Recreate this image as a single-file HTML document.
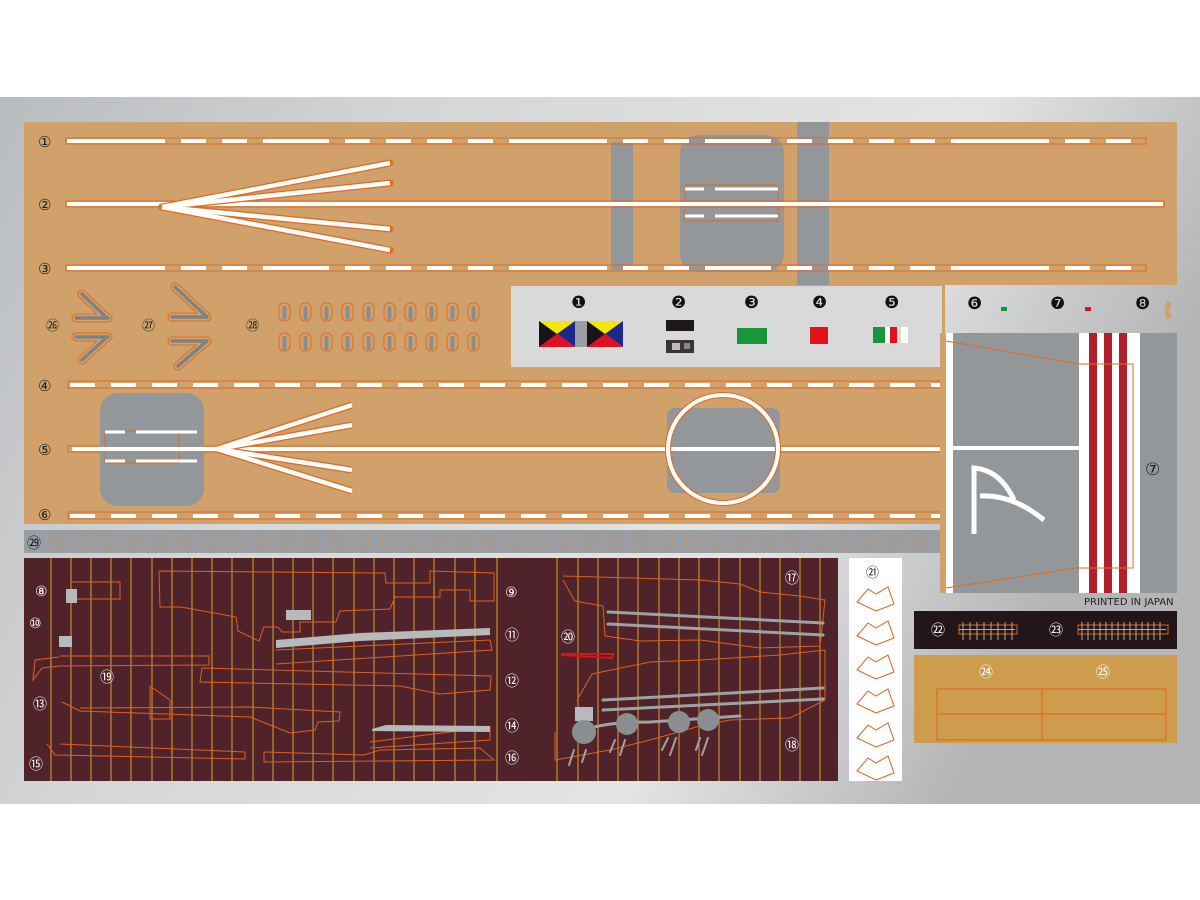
<!DOCTYPE html>
<html><head><meta charset="utf-8"><style>
html,body{margin:0;padding:0;background:#fff;}
svg{display:block;}
text{font-family:"DejaVu Sans","Noto Sans CJK JP",sans-serif;}
</style></head><body>
<svg width="1200" height="900" viewBox="0 0 1200 900" xmlns="http://www.w3.org/2000/svg">
<defs>
<linearGradient id="sil" x1="0" y1="0" x2="1" y2="0.3">
<stop offset="0" stop-color="#b9bcbf"/><stop offset="0.35" stop-color="#d6d7d8"/><stop offset="0.75" stop-color="#e4e4e4"/><stop offset="1" stop-color="#b3b5b7"/>
</linearGradient>
</defs>
<rect x="0" y="97" width="1200" height="707" fill="url(#sil)"/>
<rect x="24" y="122" width="1153" height="163" fill="#d0a16b"/>
<rect x="24" y="285" width="921" height="239" fill="#d0a16b"/>
<rect x="611" y="142" width="22" height="128" fill="#93979a"/>
<rect x="797" y="122" width="32" height="163" fill="#93979a"/>
<rect x="680" y="135" width="104" height="137" rx="18" fill="#93979a"/>
<rect x="685" y="185" width="93" height="36" fill="none" stroke="#e06a20" stroke-width="1"/>
<g stroke="#fff" stroke-width="3"><line x1="685" y1="189" x2="704" y2="189"/><line x1="715" y1="189" x2="778" y2="189"/><line x1="685" y1="216" x2="704" y2="216"/><line x1="715" y1="216" x2="778" y2="216"/></g>
<g fill="none" stroke="#e06a20" stroke-width="1">
<rect x="66" y="138" width="1080" height="6"/><rect x="66" y="201" width="1098" height="6"/><rect x="66" y="265" width="1080" height="6"/>
<rect x="68" y="381" width="877" height="7"/><rect x="68" y="446" width="877" height="6"/><rect x="68" y="512" width="877" height="7"/>
</g>
<g stroke="#fff" stroke-width="4">
<line x1="67" y1="141" x2="1145" y2="141" stroke-dasharray="98 16 25 16 25 16 66 16 25 16 25 16 25 16 25 16"/>
<line x1="67" y1="204" x2="1163" y2="204"/>
<line x1="67" y1="268" x2="1145" y2="268" stroke-dasharray="98 16 25 16 25 16 66 16 25 16 25 16 25 16 25 16"/>
<line x1="70" y1="385" x2="945" y2="385" stroke-dasharray="25 16"/>
<line x1="70" y1="516" x2="945" y2="516" stroke-dasharray="25 16"/>
</g>
<g stroke="#e06a20" stroke-width="7" stroke-linecap="round"><line x1="162" y1="207" x2="390" y2="163"/><line x1="162" y1="207" x2="390" y2="183"/><line x1="162" y1="207" x2="390" y2="229"/><line x1="162" y1="207" x2="390" y2="250"/></g>
<g stroke="#fff" stroke-width="4.5"><line x1="162" y1="207" x2="390" y2="163"/><line x1="162" y1="207" x2="390" y2="183"/><line x1="162" y1="207" x2="390" y2="229"/><line x1="162" y1="207" x2="390" y2="250"/></g>
<rect x="100" y="393" width="104" height="113" rx="18" fill="#93979a"/>
<rect x="105" y="431" width="74" height="32" fill="none" stroke="#e06a20" stroke-width="1"/>
<line x1="72" y1="449" x2="945" y2="449" stroke="#fff" stroke-width="4"/>
<g stroke="#fff" stroke-width="3"><line x1="105" y1="432" x2="125" y2="432"/><line x1="136" y1="432" x2="197" y2="432"/><line x1="105" y1="461" x2="125" y2="461"/><line x1="136" y1="461" x2="197" y2="461"/></g>
<g stroke="#e06a20" stroke-width="7"><line x1="217" y1="449" x2="352" y2="405"/><line x1="217" y1="449" x2="352" y2="425"/><line x1="217" y1="449" x2="352" y2="470"/><line x1="217" y1="449" x2="352" y2="491"/></g>
<g stroke="#fff" stroke-width="4.5"><line x1="217" y1="449" x2="352" y2="405"/><line x1="217" y1="449" x2="352" y2="425"/><line x1="217" y1="449" x2="352" y2="470"/><line x1="217" y1="449" x2="352" y2="491"/></g>
<rect x="667" y="408" width="113" height="85" rx="8" fill="#93979a"/>
<line x1="667" y1="449" x2="780" y2="449" stroke="#fff" stroke-width="4"/>
<ellipse cx="723" cy="449" rx="55" ry="54" fill="none" stroke="#e06a20" stroke-width="6"/>
<ellipse cx="723" cy="449" rx="55" ry="54" fill="none" stroke="#fff" stroke-width="4"/>
<g font-size="15" fill="#222">
<text x="38" y="147">①</text><text x="38" y="210">②</text><text x="38" y="274">③</text>
<text x="38" y="391">④</text><text x="38" y="455">⑤</text><text x="38" y="520">⑥</text>
</g>
<g font-size="13" fill="#222" font-family="'Noto Sans CJK JP',sans-serif">
<text x="46" y="330">㉖</text><text x="142" y="330">㉗</text><text x="246" y="330">㉘</text>
</g>
<g stroke-linecap="round">
<g stroke="#e06a20" stroke-width="9"><path d="M82,294 L107,318 M76,318 H108 M76,337 H108 M82,360 L107,337 M175,287 L207,317 M172,317 H207 M172,341 H207 M178,366 L207,341"/></g>
<g stroke="#d0a16b" stroke-width="7"><path d="M82,294 L107,318 M76,318 H108 M76,337 H108 M82,360 L107,337 M175,287 L207,317 M172,317 H207 M172,341 H207 M178,366 L207,341"/></g>
<g stroke="#7d8285" stroke-width="3.5"><path d="M82,294 L107,318 M76,318 H108 M76,337 H108 M82,360 L107,337 M175,287 L207,317 M172,317 H207 M172,341 H207 M178,366 L207,341"/></g>
</g>
<g>
<g fill="#d0a16b" stroke="#e06a20" stroke-width="1">
<rect x="279" y="303" width="11" height="18" rx="5"/><rect x="300" y="303" width="11" height="18" rx="5"/><rect x="321" y="303" width="11" height="18" rx="5"/><rect x="342" y="303" width="11" height="18" rx="5"/><rect x="363" y="303" width="11" height="18" rx="5"/><rect x="384" y="303" width="11" height="18" rx="5"/><rect x="405" y="303" width="11" height="18" rx="5"/><rect x="426" y="303" width="11" height="18" rx="5"/><rect x="447" y="303" width="11" height="18" rx="5"/><rect x="468" y="303" width="11" height="18" rx="5"/>
<rect x="279" y="333" width="11" height="18" rx="5"/><rect x="300" y="333" width="11" height="18" rx="5"/><rect x="321" y="333" width="11" height="18" rx="5"/><rect x="342" y="333" width="11" height="18" rx="5"/><rect x="363" y="333" width="11" height="18" rx="5"/><rect x="384" y="333" width="11" height="18" rx="5"/><rect x="405" y="333" width="11" height="18" rx="5"/><rect x="426" y="333" width="11" height="18" rx="5"/><rect x="447" y="333" width="11" height="18" rx="5"/><rect x="468" y="333" width="11" height="18" rx="5"/>
</g>
<g stroke="#8a8e91" stroke-width="4" stroke-linecap="round"><path d="M284.5,308V318M305.5,308V318M326.5,308V318M347.5,308V318M368.5,308V318M389.5,308V318M410.5,308V318M431.5,308V318M452.5,308V318M473.5,308V318M284.5,338V348M305.5,338V348M326.5,338V348M347.5,338V348M368.5,338V348M389.5,338V348M410.5,338V348M431.5,338V348M452.5,338V348M473.5,338V348"/></g>
</g>
<rect x="511" y="286" width="431" height="81" fill="#d9d9da"/>
<g font-size="17" fill="#111">
<text x="571" y="308">❶</text><text x="671" y="308">❷</text><text x="744" y="308">❸</text><text x="812" y="308">❹</text><text x="884" y="308">❺</text>
<text x="967" y="309">❻</text><text x="1050" y="309">❼</text><text x="1135" y="309">❽</text>
</g>
<g>
<polygon points="539,321 575,321 557,334" fill="#f5e60a"/><polygon points="575,321 575,347 557,334" fill="#1b2a8a"/><polygon points="539,347 575,347 557,334" fill="#e01020"/><polygon points="539,321 539,347 557,334" fill="#1a1414"/>
<rect x="575" y="321" width="12" height="26" fill="#9a9ea2"/>
<polygon points="587,321 623,321 605,334" fill="#f5e60a"/><polygon points="623,321 623,347 605,334" fill="#1b2a8a"/><polygon points="587,347 623,347 605,334" fill="#e01020"/><polygon points="587,321 587,347 605,334" fill="#1a1414"/>
<rect x="666" y="320" width="28" height="11" fill="#1e1618"/>
<rect x="666" y="340" width="28" height="13" fill="#3a3436"/><rect x="672" y="343" width="8" height="7" fill="#bbb"/><rect x="684" y="343" width="6" height="6" fill="#888"/>
<rect x="737" y="328" width="30" height="16" fill="#17963a"/>
<rect x="810" y="327" width="18" height="17" fill="#e3101e"/>
<rect x="873" y="327" width="12" height="16" fill="#17963a"/><rect x="885" y="327" width="5" height="16" fill="#fff"/><rect x="890" y="327" width="7" height="16" fill="#e3101e"/><rect x="901" y="327" width="7" height="16" fill="#fff"/>
<rect x="1001" y="307" width="6" height="4" fill="#17963a"/><rect x="1085" y="307" width="6" height="4" fill="#e3101e"/>
<path d="M1170,302 Q1164,310 1170,318" stroke="#d0a16b" stroke-width="5" fill="none"/>
</g>
<rect x="940" y="333" width="6" height="260" fill="#d0a16b"/>
<rect x="946" y="333" width="7" height="260" fill="#fff"/>
<rect x="953" y="333" width="224" height="260" fill="#93979a"/>
<rect x="953" y="446" width="127" height="4" fill="#fff"/>
<rect x="1079" y="333" width="61" height="260" fill="#fff"/>
<rect x="1089" y="333" width="8" height="260" fill="#b0202a"/><rect x="1104" y="333" width="8" height="260" fill="#b0202a"/><rect x="1119" y="333" width="8" height="260" fill="#b0202a"/>
<path d="M974,534 V468 Q1000,470 1014,500 M980,496 Q1012,494 1044,520" fill="none" stroke="#fff" stroke-width="5"/>
<polyline points="946,341 1079,364 1133,364 1133,568 1076,568 946,588" fill="none" stroke="#e06a20" stroke-width="1"/>
<text x="1145" y="475" font-size="17" fill="#222">⑦</text>
<text x="1084" y="605" font-size="10" fill="#222" font-family="'Liberation Sans',sans-serif">PRINTED IN JAPAN</text>
<rect x="24" y="530" width="916" height="23" fill="#9a9ea2"/>
<text x="27" y="548" font-size="14" fill="#111" font-family="'Noto Sans CJK JP',sans-serif">㉙</text>
<g fill="none" stroke="#c98a5a" stroke-width="1" opacity="0.8">
<rect x="53" y="536" width="10" height="12"/><rect x="79" y="536" width="10" height="12"/><rect x="104" y="536" width="10" height="12"/><rect x="130" y="536" width="10" height="12"/><rect x="155" y="536" width="10" height="12"/><rect x="180" y="536" width="10" height="12"/><rect x="206" y="536" width="10" height="12"/><rect x="231" y="536" width="10" height="12"/><rect x="256" y="536" width="10" height="12"/><rect x="282" y="536" width="10" height="12"/><rect x="307" y="536" width="10" height="12"/><rect x="332" y="536" width="10" height="12"/><rect x="358" y="536" width="10" height="12"/><rect x="383" y="536" width="10" height="12"/><rect x="408" y="536" width="10" height="12"/><rect x="434" y="536" width="10" height="12"/><rect x="459" y="536" width="10" height="12"/><rect x="484" y="536" width="10" height="12"/><rect x="510" y="536" width="10" height="12"/><rect x="535" y="536" width="10" height="12"/><rect x="560" y="536" width="10" height="12"/><rect x="586" y="536" width="10" height="12"/><rect x="611" y="536" width="10" height="12"/><rect x="636" y="536" width="10" height="12"/><rect x="662" y="536" width="10" height="12"/><rect x="687" y="536" width="10" height="12"/><rect x="712" y="536" width="10" height="12"/><rect x="738" y="536" width="10" height="12"/><rect x="763" y="536" width="10" height="12"/><rect x="788" y="536" width="10" height="12"/><rect x="814" y="536" width="10" height="12"/><rect x="839" y="536" width="10" height="12"/><rect x="864" y="536" width="10" height="12"/><rect x="890" y="536" width="10" height="12"/><rect x="915" y="536" width="10" height="12"/>
</g>
<rect x="24" y="558" width="814" height="223" fill="#50232a"/>
<g stroke="#e0a030" stroke-width="1">
<path d="M51,558V781M71,558V781M91,558V781M111,558V781M131,558V781M152,558V781M172,558V781M192,558V781M212,558V781M232,558V781M253,558V781M273,558V781M293,558V781M313,558V781M333,558V781M354,558V781M374,558V781M394,558V781M414,558V781M434,558V781M455,558V781M475,558V781M497,558V781"/>
<path d="M557,558V781M578,558V781M598,558V781M618,558V781M638,558V781M659,558V781M679,558V781M699,558V781M719,558V781M740,558V781M760,558V781M780,558V781M800,558V781M820,558V781"/>
</g>
<g fill="none" stroke="#e0601c" stroke-width="1">
<polyline points="70,582 120,582 120,599 70,599"/>
<polyline points="159,571 385,573 386,583 430,583 430,571 494,573 494,601 470,601 470,590 440,590 440,597 395,597 390,609 340,611 336,622 300,622 300,632 282,632 278,627 264,627 259,641 238,631 236,617 181,607 160,607 159,571"/>
<polyline points="59,657 35,660 33,680 42,668 60,666 209,665 209,656 60,656"/>
<polyline points="276,650 490,640 492,650 276,664"/>
<polyline points="202,668 200,682 400,686 440,694 490,690 491,676 202,668"/>
<polyline points="62,702 80,711 250,717 290,733 315,730 318,722 339,721 340,712 250,707 80,708"/>
<polyline points="47,744 55,755 245,759 245,752 60,744"/>
<polyline points="264,752 264,762 494,760 480,748 380,750 364,755 264,752"/>
<polyline points="370,742 490,727 490,740 370,748"/>
<polyline points="150,686 150,719 170,719 170,700 150,686"/>
<polyline points="563,580 575,601 603,606 605,636 640,641 700,640 760,648 820,646 825,600 800,596 760,592 740,584 700,580 563,576"/>
<polyline points="577,700 592,674 650,662 700,660 780,655 825,650 825,700 790,718 730,720 700,726 650,740 610,750 555,760 555,732"/>
<polyline points="561,655 612,658 613,654 561,654" stroke="#d01818" stroke-width="2"/>
</g>
<g fill="#b7b9bb">
<rect x="66" y="589" width="11" height="14"/><rect x="59" y="636" width="13" height="11"/><rect x="286" y="610" width="25" height="10"/>
<polygon points="276,640 360,633 490,628 490,635 360,641 276,648"/>
<polygon points="372,729 386,725 490,726 490,732 372,731"/>
<rect x="575" y="707" width="18" height="14"/>
</g>
<g stroke="#9ea2a5" stroke-width="3" stroke-linecap="round">
<line x1="608" y1="612" x2="823" y2="623"/><line x1="608" y1="624" x2="823" y2="635"/>
<line x1="603" y1="700" x2="823" y2="688"/><line x1="603" y1="710" x2="823" y2="699"/>
<path d="M584,731 Q600,722 650,722 L740,716" fill="none"/>
<path d="M574,750 L569,765 M586,750 L582,762 M615,740 L610,752 M625,740 L620,755 M668,738 L662,750 M676,738 L670,755 M700,738 L696,750 M708,738 L702,755" stroke-width="2"/>
</g>
<g fill="#8a8e91"><circle cx="584" cy="732" r="12"/><circle cx="627" cy="724" r="11"/><circle cx="679" cy="722" r="11"/><circle cx="708" cy="720" r="11"/></g>
<g fill="#fff" font-size="14">
<text x="35" y="596">⑧</text><text x="29" y="628">⑩</text><text x="100" y="682">⑲</text><text x="33" y="709">⑬</text><text x="29" y="769">⑮</text>
<text x="505" y="597">⑨</text><text x="505" y="640">⑪</text><text x="505" y="686">⑫</text><text x="505" y="731">⑭</text><text x="505" y="763">⑯</text>
<text x="561" y="642">⑳</text><text x="785" y="583">⑰</text><text x="785" y="750">⑱</text>
</g>
<rect x="849" y="558" width="53" height="223" fill="#fff"/>
<text x="866" y="577" font-size="13" fill="#222" font-family="'Noto Sans CJK JP',sans-serif">㉑</text>
<g fill="none" stroke="#e0601c" stroke-width="1">
<polygon points="857,602 868,589 876,594 888,587 894,604 876,611"/>
<polygon points="857,636 868,623 876,628 888,621 894,638 876,645"/>
<polygon points="857,670 868,657 876,662 888,655 894,672 876,679"/>
<polygon points="857,704 868,691 876,696 888,689 894,706 876,713"/>
<polygon points="857,738 868,725 876,730 888,723 894,740 876,747"/>
<polygon points="857,771 868,758 876,763 888,756 894,773 876,780"/>
</g>
<rect x="914" y="611" width="263" height="38" fill="#221618"/>
<g fill="#fff" font-size="14" font-family="'Noto Sans CJK JP',sans-serif"><text x="931" y="635">㉒</text><text x="1049" y="635">㉓</text></g>
<rect x="959" y="625" width="58" height="9" fill="none" stroke="#e0601c" stroke-width="1"/>
<rect x="1078" y="625" width="90" height="9" fill="none" stroke="#e0601c" stroke-width="1"/>
<g stroke="#b8a89a" stroke-width="1">
<path d="M959,629.5H1015M963,622V640M970,622V640M977,622V640M984,622V640M991,622V640M998,622V640M1005,622V640M1012,622V640"/>
<path d="M1078,629.5H1166M1082,622V640M1088,622V640M1094,622V640M1100,622V640M1106,622V640M1112,622V640M1118,622V640M1124,622V640M1130,622V640M1136,622V640M1142,622V640M1148,622V640M1154,622V640M1160,622V640"/>
</g>
<rect x="914" y="655" width="263" height="88" fill="#cd9c4c"/>
<g fill="#fff" font-size="14" font-family="'Noto Sans CJK JP',sans-serif"><text x="979" y="677">㉔</text><text x="1096" y="677">㉕</text></g>
<g fill="none" stroke="#e0601c" stroke-width="1"><rect x="937" y="689" width="229" height="51"/><line x1="937" y1="714" x2="1166" y2="714"/><line x1="1042" y1="689" x2="1042" y2="740"/></g>
</svg>
</body></html>
